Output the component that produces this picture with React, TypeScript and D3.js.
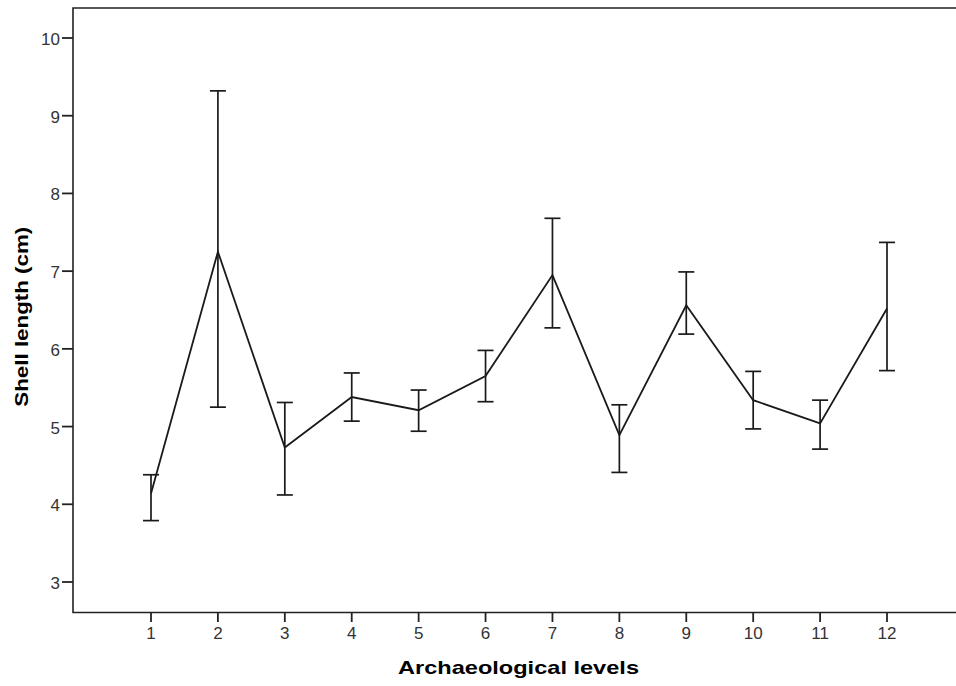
import React from "react";
import * as d3 from "d3";

const levels = [1, 2, 3, 4, 5, 6, 7, 8, 9, 10, 11, 12];
const means = [4.14, 7.25, 4.73, 5.38, 5.21, 5.65, 6.95, 4.89, 6.56, 5.34, 5.04, 6.52];
const upper = [4.38, 9.32, 5.31, 5.69, 5.47, 5.98, 7.68, 5.28, 6.99, 5.71, 5.34, 7.37];
const lower = [3.79, 5.25, 4.12, 5.07, 4.94, 5.32, 6.27, 4.41, 6.19, 4.97, 4.71, 5.72];
const yTicks = [3, 4, 5, 6, 7, 8, 9, 10];
const xLabel = "Archaeological levels";
const yLabel = "Shell length (cm)";

const W = 956;
const H = 686;
const left = 73;
const right = 957;
const top = 8;
const bottom = 612.5;

export default function App() {
  const x = d3.scaleLinear().domain([1, 12]).range([151, 887]);
  const y = d3.scaleLinear().domain([3, 10]).range([582, 38]);
  const line = d3
    .line<number>()
    .x((_, i) => x(levels[i]))
    .y((d) => y(d));
  const cap = 8;
  const font = "'Liberation Sans', Arial, sans-serif";
  return (
    <svg
      width={W}
      height={H}
      style={{ position: "absolute", left: 0, top: 0, background: "#fff" }}
    >
      <rect x={0} y={0} width={W} height={H} fill="#fff" />
      {/* frame */}
      <path
        d={`M${right},${top}H${left}V${bottom}H${right}`}
        fill="none"
        stroke="#222"
        strokeWidth={1.6}
      />
      {/* y ticks */}
      {yTicks.map((t) => (
        <g key={"y" + t}>
          <line x1={62} x2={left} y1={y(t)} y2={y(t)} stroke="#222" strokeWidth={1.8} />
          <text
            x={60}
            y={y(t)}
            dy={7}
            textAnchor="end"
            fontFamily={font}
            fontSize={17}
            fill="#333"
          >
            {t}
          </text>
        </g>
      ))}
      {/* x ticks */}
      {levels.map((l) => (
        <g key={"x" + l}>
          <line x1={x(l)} x2={x(l)} y1={bottom} y2={622} stroke="#222" strokeWidth={1.8} />
          <text
            x={x(l)}
            y={639}
            textAnchor="middle"
            fontFamily={font}
            fontSize={17}
            fill="#333"
          >
            {l}
          </text>
        </g>
      ))}
      {/* error bars */}
      {levels.map((l, i) => (
        <g key={"e" + l} stroke="#1a1a1a" strokeWidth={1.7} fill="none">
          <line x1={x(l)} x2={x(l)} y1={y(upper[i])} y2={y(lower[i])} />
          <line x1={x(l) - cap} x2={x(l) + cap} y1={y(upper[i])} y2={y(upper[i])} />
          <line x1={x(l) - cap} x2={x(l) + cap} y1={y(lower[i])} y2={y(lower[i])} />
        </g>
      ))}
      {/* mean line */}
      <path d={line(means) || ""} fill="none" stroke="#1a1a1a" strokeWidth={1.8} />
      {/* axis titles */}
      <text
        x={518.5}
        y={674}
        textAnchor="middle"
        fontFamily={font}
        fontWeight="bold"
        fontSize={19}
        textLength={241}
        lengthAdjust="spacingAndGlyphs"
        fill="#000"
      >
        {xLabel}
      </text>
      <text
        transform={`translate(27.5,316.7) rotate(-90)`}
        textAnchor="middle"
        fontFamily={font}
        fontWeight="bold"
        fontSize={19}
        textLength={180}
        lengthAdjust="spacingAndGlyphs"
        fill="#000"
      >
        {yLabel}
      </text>
    </svg>
  );
}
